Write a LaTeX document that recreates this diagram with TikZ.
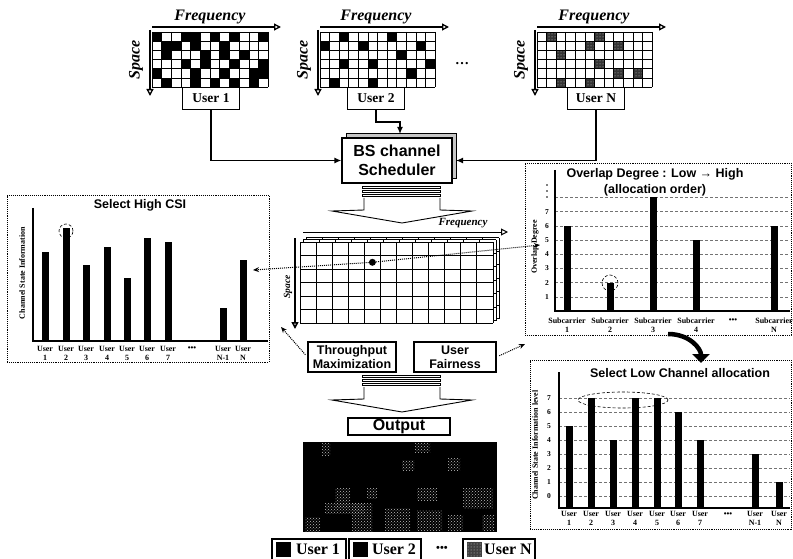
\documentclass[tikz,border=0pt]{standalone}
\usepackage{fontspec}
\setmainfont{Liberation Serif}
\newfontfamily\sansbold{Liberation Sans}
\usepackage{tikz}
\usetikzlibrary{arrows.meta,positioning,calc,patterns}
\tikzset{
  gridpen/.style={line width=0.9pt},
  hollowarr/.style={-{Triangle[open, length=7pt, width=7pt]}, line width=1.3pt},
  conn/.style={-{Latex[length=7pt, width=6pt]}, line width=1.3pt},
  dotarr/.style={-{Stealth[length=6pt, width=5pt]}, densely dotted, line width=1pt},
  fatarr/.style={-{Triangle[length=9pt, width=17pt]}, line width=4.5pt},
  userbox/.style={rectangle, draw, line width=1.1pt, fill=white, font=\fontsize{13.5}{14}\selectfont\bfseries,
                  minimum width=57pt, minimum height=22pt, inner sep=1pt},
  headbox/.style={rectangle, draw, line width=1.2pt, fill=white, align=center,
                  font=\sansbold\bfseries\fontsize{12.5}{14}\selectfont, inner sep=1pt},
  freqlabel/.style={font=\fontsize{16}{16}\selectfont\bfseries\itshape, inner sep=0pt},
  panel/.style={rectangle, draw, densely dotted, line width=0.9pt, inner sep=0pt},
  charttitle/.style={font=\sansbold\bfseries\fontsize{12.5}{16}\selectfont, align=center, inner sep=0pt},
  ylab/.style={font=\fontsize{8}{8}\selectfont\bfseries, rotate=90, inner sep=0pt},
  ticklab/.style={font=\fontsize{7.5}{8}\selectfont\bfseries, inner sep=0pt},
  barlab/.style={font=\fontsize{8}{9}\selectfont\bfseries, align=center, inner sep=0pt},
  axispen/.style={line width=1.1pt},
  levelline/.style={densely dashed, line width=0.5pt, black!55},
  ring/.style={densely dashed, line width=0.6pt},
  legbox/.style={rectangle, draw, line width=1.2pt, font=\fontsize{16}{16}\selectfont\bfseries,
                 minimum height=21pt, inner sep=2pt},
  speckle/.style={pattern=dots, pattern color=white!65!gray},
  noise/.style={pattern=crosshatch dots, pattern color=white!75!black},
}
% grid of cols x rows, cell width, cell height
\newcommand{\cellgrid}[4]{%
  \foreach \i in {0,...,#1} \draw[gridpen] (\i*#3,0) -- (\i*#3,#2*#4);
  \foreach \j in {0,...,#2} \draw[gridpen] (0,\j*#4) -- (#1*#3,\j*#4);
}
\begin{document}
\begin{tikzpicture}[x=1pt, y=-1pt]
\useasboundingbox (0,0) rectangle (793,559);

% ---- user resource grids
\begin{scope}[shift={(152,32)}]
  \foreach \r/\cells in {0/{0,3,4,6,8,11}, 1/{1,2,4,7}, 2/{1,5,7,9}, 3/{3,5,8,11}, 4/{0,4,7,10,11}, 5/{1,4,6,8,10}}
    \foreach \c in \cells \fill (\c*9.7,\r*9.2) rectangle ++(9.7,9.2);
  \cellgrid{12}{6}{9.7}{9.2}
\end{scope}
\begin{scope}[shift={(320,32)}]
  \foreach \r/\cells in {0/{2,7}, 1/{0,4,10}, 2/{8}, 3/{2,5,11}, 4/{9}, 5/{1,5}}
    \foreach \c in \cells \fill (\c*9.6,\r*9.2) rectangle ++(9.6,9.2);
  \cellgrid{12}{6}{9.6}{9.2}
\end{scope}
\begin{scope}[shift={(537,32)}]
  \foreach \r/\cells in {0/{1,6}, 1/{5,8}, 2/{2}, 3/{6}, 4/{8,10}, 5/{2,5}}
    \foreach \c in \cells {
      \fill[black!80] (\c*9.6,\r*9.2) rectangle ++(9.6,9.2);
      \fill[speckle] (\c*9.6,\r*9.2) rectangle ++(9.6,9.2);
    }
  \cellgrid{12}{6}{9.6}{9.2}
\end{scope}

\foreach \gx/\gc/\gn in {152/210/A, 320/376/B, 537/594/N} {
  \node[freqlabel] (freq\gn) at (\gc,17) {Frequency};
  \node[freqlabel, rotate=90] (space\gn) at (\gx-16,60) {Space};
  \coordinate (fs\gn) at (\gx,27);
  \coordinate (fe\gn) at (\gx+129,27);
  \coordinate (ss\gn) at (\gx-2,30);
  \coordinate (se\gn) at (\gx-2,96);
  \draw[hollowarr] (fs\gn) -- (fe\gn);
  \draw[hollowarr] (ss\gn) -- (se\gn);
}
\node[font=\bfseries\fontsize{14}{14}\selectfont] (gdots) at (462,64) {\dots};

\node[userbox] (userA) at (211,98.5) {User 1};
\node[userbox] (userB) at (376,98.5) {User 2};
\node[userbox] (userN) at (596,98.5) {User N};

% ---- scheduler
\draw[line width=1pt, fill=gray!45] (346,134) rectangle (456,179);
\node[headbox, minimum width=110pt, minimum height=45pt, font=\sansbold\bfseries\fontsize{16}{19}\selectfont]
  (sched) at (397,160.5) {BS channel\\Scheduler};
\coordinate (schedE) at (456,160.5);
\coordinate (schedN) at (400,134);
\draw[conn] (userA.south) |- (sched.west);
\draw[conn] (userN.south) |- (schedE);
\draw[conn] (userB.south) -- ++(0,12) -| (schedN);

% ---- stacked block arrows
\foreach \ya in {186,375} {
  \foreach \d in {0,4,8} \draw[line width=0.7pt, fill=white] (362,\ya+\d) rectangle (440,\ya+\d+2.5);
  \draw[line width=0.9pt, fill=white] (364,\ya+12) -- (364,\ya+24) -- (332,\ya+25) -- (402,\ya+37)
    -- (472,\ya+25) -- (440,\ya+24) -- (440,\ya+12);
}

% ---- panels
\node[panel, minimum width=262pt, minimum height=167pt] (csi) at (138,278.5) {};
\node[panel, minimum width=266pt, minimum height=172pt] (ovl) at (658,249) {};
\node[panel, minimum width=261pt, minimum height=169pt] (low) at (660.5,444.5) {};

% ---- Select High CSI
\node[charttitle] (csiTitle) at (140,205) {Select High CSI};
\node[ylab] (csiY) at (22,273) {Channel State Information};
\draw[axispen] (33,208) -- (33,341) -- (268,341);
\foreach \bx/\bt/\bn [count=\k] in {45/252/1, 66/228/2, 86/265/3, 107/247/4, 127/278/5, 147/238/6, 168/242/7, 223/308/N-1, 243/260/N} {
  \fill (\bx-3.5,\bt) rectangle (\bx+3.5,341);
  \node[barlab] (csiU\k) at (\bx,353.5) {User\\\bn};
}
\node[barlab] (csiDots) at (192,349) {•••};
\draw[ring] (66,231) circle (7pt);

% ---- Overlap Degree
\node[charttitle] (ovlTitle) at (655,182) {Overlap Degree : Low → High\\(allocation order)};
\node[ylab] (ovlY) at (535,247) {Overlap Degree};
\foreach \v in {1,...,8} \draw[levelline] (555,311-\v*14.2) -- (790,311-\v*14.2);
\foreach \v in {1,...,7} \node[ticklab] (ovlT\v) at (547,311-\v*14.2) {\v};
\foreach \dy in {185,191,197} \fill (547,\dy) circle (0.9pt);
\draw[axispen] (555,170) -- (555,311) -- (790,311);
\foreach \bx/\bv/\bn [count=\k] in {567/6/1, 610/2/2, 653/8/3, 696/5/4, 774/6/N} {
  \fill (\bx-3.5,311-\bv*14.2) rectangle (\bx+3.5,311);
  \node[barlab] (ovlS\k) at (\bx,325.5) {Subcarrier\\\bn};
}
\node[barlab] (ovlDots) at (733,321) {•••};
\draw[ring] (610,283) circle (8pt);

% ---- Select Low Channel allocation
\node[charttitle] (lowTitle) at (680,373) {Select Low Channel allocation};
\node[ylab] (lowY) at (535,445) {Channel State Information level};
\foreach \v in {0,...,7} {
  \draw[levelline] (559,496-\v*14) -- (790,496-\v*14);
  \node[ticklab] (lowT\v) at (549,496-\v*14) {\v};
}
\draw[axispen] (559,372) -- (559,508) -- (790,508);
\foreach \bx/\bv/\bn [count=\k] in {569/5/1, 591/7/2, 613/4/3, 635/7/4, 657/7/5, 678/6/6, 700/4/7, 755/3/N-1, 779/1/N} {
  \fill (\bx-3.5,496-\bv*14) rectangle (\bx+3.5,508);
  \node[barlab] (lowU\k) at (\bx,518.5) {User\\\bn};
}
\node[barlab] (lowDots) at (728,515) {•••};
\draw[ring] (623,400) ellipse [x radius=45pt, y radius=8pt];

\coordinate (bendS) at (668,334);
\coordinate (bendE) at (701,363);
\draw[fatarr] (bendS) .. controls +(22,0) and +(0,-14) .. (bendE);

% ---- stacked channel grid
\foreach \o in {6,3,0} {
  \begin{scope}[shift={(300+\o,242-\o*0.7)}]
    \fill[white] (0,0) rectangle (193,81);
    \cellgrid{12}{6}{16.08}{13.5}
  \end{scope}
}
\node[freqlabel, font=\fontsize{11}{11}\selectfont\bfseries\itshape] (freqC) at (463,223) {Frequency};
\node[freqlabel, font=\fontsize{9.5}{10}\selectfont\bfseries\itshape, rotate=90] (spaceC) at (288,287) {Space};
\coordinate (fsC) at (303,232);
\coordinate (feC) at (508,232);
\coordinate (ssC) at (295,238);
\coordinate (seC) at (295,329);
\draw[hollowarr, line width=1pt] (fsC) -- (feC);
\draw[hollowarr, line width=1.6pt] (ssC) -- (seC);
\draw[densely dotted, line width=0.8pt] (364.3,255.5) rectangle (380.4,269);
\node[circle, fill=black, inner sep=0pt, minimum size=7pt] (hit) at (372.4,262.3) {};
\coordinate (csiIn) at (253,270);
\coordinate (ovlIn) at (540,245);
\draw[dotarr] (hit) -- (csiIn);
\draw[dotarr] (hit) -- (ovlIn);

% ---- criteria
\node[headbox, minimum width=88pt, minimum height=30pt] (thru) at (352,357) {Throughput\\Maximization};
\node[headbox, minimum width=82pt, minimum height=30pt] (fair) at (455,357) {User\\Fairness};
\coordinate (csiCorner) at (281,327);
\coordinate (ovlCorner) at (525,344);
\draw[dotarr, shorten <=3pt] (thru.west) -- (csiCorner);
\draw[dotarr, shorten <=3pt] (fair.east) -- (ovlCorner);

% ---- output
\node[headbox, minimum width=102pt, minimum height=17pt, font=\sansbold\bfseries\fontsize{16}{16}\selectfont] (out) at (399,426.5) {Output};
\node[fill=black, inner sep=0pt, minimum width=194pt, minimum height=90pt] (outmap) at (400,487) {};
\foreach \px/\py/\pw/\ph in {322/443/8/12, 415/443/15/9, 402/460/12/10, 448/458/12/12, 335/488/15/20, 367/488/10/10,
    417/488/20/12, 463/488/30/20, 325/503/40/10, 352/503/20/28, 305/517/15/14, 385/508/25/22, 417/510/25/20, 448/515/15/15, 482/515/12/15}
  \fill[noise] (\px,\py) rectangle ++(\pw,\ph);

% ---- legend
\node[legbox, minimum width=74pt] (legA) at (309,549.5) {\hspace{18pt}User 1};
\node[legbox, minimum width=72pt] (legB) at (385,549.5) {\hspace{18pt}User 2};
\node[legbox, minimum width=72pt] (legN) at (499,549.5) {\hspace{18pt}User N};
\node[fill=black, minimum size=15pt, inner sep=0pt, right=4pt of legA.west] (sqA) {};
\node[fill=black, minimum size=15pt, inner sep=0pt, right=4pt of legB.west] (sqB) {};
\node[fill=black!75, minimum size=15pt, inner sep=0pt, right=4pt of legN.west] (sqN) {};
\fill[speckle] (sqN.south west) rectangle (sqN.north east);
\node[font=\bfseries\fontsize{11}{11}\selectfont] (legDots) at (442,549) {•••};
\end{tikzpicture}
\end{document}
